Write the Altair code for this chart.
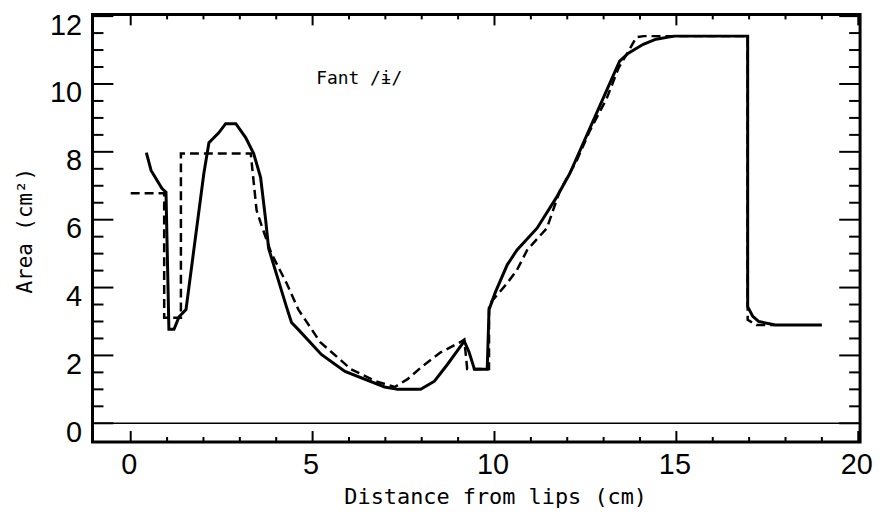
import altair as alt
import pandas as pd

# ---- data ----
solid_x = [0.43, 0.56, 0.86, 0.97, 1.05, 1.19, 1.33, 1.52, 2.01, 2.15, 2.42, 2.61, 2.89, 3.16, 3.38,
           3.57, 3.71, 3.79, 4.28, 4.42, 4.61, 5.24, 5.89, 6.98, 7.34, 7.97, 8.35, 8.71, 9.17, 9.30,
           9.45, 9.80, 9.85, 10.02, 10.35, 10.62, 11.17, 11.70, 12.07, 13.44, 13.68, 14.09, 14.44,
           14.94, 16.96, 16.96, 17.10, 17.26, 17.72, 19.00]
solid_y = [7.98, 7.45, 6.92, 6.81, 2.77, 2.77, 3.14, 3.35, 7.36, 8.27, 8.56, 8.83, 8.83, 8.42, 7.95,
           7.25, 5.99, 5.16, 3.44, 2.97, 2.76, 2.03, 1.53, 1.07, 1.00, 1.00, 1.24, 1.74, 2.42, 2.10,
           1.59, 1.59, 3.35, 3.85, 4.67, 5.11, 5.75, 6.65, 7.36, 10.67, 10.91, 11.17, 11.32,
           11.41, 11.41, 3.44, 3.15, 3.00, 2.90, 2.90]

dash_x = [0.00, 0.92, 0.92, 1.38, 1.38, 3.30, 3.46, 3.61, 3.87, 4.28, 4.61, 5.21, 6.06, 6.74, 7.26,
          7.61, 8.02, 8.52, 9.06, 9.17, 9.25, 9.85, 9.85, 10.35, 10.62, 10.90, 11.44, 11.80, 12.26,
          12.62, 13.08, 13.41, 13.68, 13.90, 14.10, 16.96, 16.96, 17.20, 17.70]
dash_y = [6.78, 6.78, 3.11, 3.11, 7.95, 7.95, 6.28, 5.79, 5.00, 4.14, 3.35, 2.39, 1.59, 1.24, 1.07,
          1.30, 1.68, 2.09, 2.39, 2.47, 1.60, 1.60, 3.50, 4.13, 4.52, 5.11, 5.75, 6.86, 7.74,
          8.62, 9.56, 10.47, 10.96, 11.38, 11.41, 11.41, 3.05, 2.90, 2.90]

x_labels = [0, 5, 10, 15, 20]
x_minor = [1, 2, 3, 4, 6, 7, 8, 9, 11, 12, 13, 14, 16, 17, 18, 19]
y_labels = [0, 2, 4, 6, 8, 10, 12]
y_minor = [0.5, 1, 1.5, 2.5, 3, 3.5, 4.5, 5, 5.5, 6.5, 7, 7.5, 8.5, 9, 9.5, 10.5, 11, 11.5]
zero_level = [0]

note_text = ["Fant /ɨ/"]
note_x = [5.1]
note_y = [10.0]

W, H = 772, 430
XD = [-1.05, 20.05]
YD = [-0.55, 12.05]

solid = pd.DataFrame({"x": solid_x, "y": solid_y, "i": range(len(solid_x))})
dashed = pd.DataFrame({"x": dash_x, "y": dash_y, "i": range(len(dash_x))})

xs = alt.Scale(domain=XD, nice=False, zero=False)
ys = alt.Scale(domain=YD, nice=False, zero=False)

xaxis = alt.Axis(values=x_labels, ticks=False, domain=False, grid=False, tickSize=0,
                 labelFont="Liberation Sans", labelFontSize=29, labelColor="black",
                 labelPadding=9, labelFlush=False, labelOffset=-2,
                 title="Distance from lips (cm)", titleFont="DejaVu Sans Mono",
                 titleFontSize=22, titleFontWeight="normal", titleColor="black",
                 titleX=405, titleY=62, titleAlign="center", titleBaseline="alphabetic")
yaxis = alt.Axis(values=y_labels, ticks=False, domain=False, grid=False, tickSize=0,
                 labelFont="Liberation Sans", labelFontSize=29, labelColor="black",
                 labelPadding=11, labelFlush=False, labelBaseline="top", labelOffset=-5,
                 title="Area (cm²)", titleFont="DejaVu Sans Mono", titleFontSize=21,
                 titleFontWeight="normal", titleColor="black", titleAngle=270,
                 titleX=-61, titleY=217, titleAlign="center", titleBaseline="alphabetic")

base_solid = alt.Chart(solid).mark_line(color="black", strokeWidth=3).encode(
    x=alt.X("x:Q", scale=xs, axis=xaxis),
    y=alt.Y("y:Q", scale=ys, axis=yaxis),
    order="i:Q",
)
base_dash = alt.Chart(dashed).mark_line(color="black", strokeWidth=2.5, strokeDash=[9, 5]).encode(
    x=alt.X("x:Q", scale=xs),
    y=alt.Y("y:Q", scale=ys),
    order="i:Q",
)

zero = alt.Chart(pd.DataFrame({"v": zero_level})).mark_rule(color="black", strokeWidth=1.5).encode(
    y=alt.Y("v:Q", scale=ys), x=alt.value(0), x2=alt.value(W))

def xticks(vals, length):
    d = pd.DataFrame({"v": vals})
    b = alt.Chart(d).mark_rule(color="black", strokeWidth=2).encode(
        x=alt.X("v:Q", scale=xs), y=alt.value(H), y2=alt.value(H - length))
    t = alt.Chart(d).mark_rule(color="black", strokeWidth=2).encode(
        x=alt.X("v:Q", scale=xs), y=alt.value(0), y2=alt.value(length))
    return [b, t]

def yticks(vals, length):
    d = pd.DataFrame({"v": vals})
    l = alt.Chart(d).mark_rule(color="black", strokeWidth=2).encode(
        y=alt.Y("v:Q", scale=ys), x=alt.value(0), x2=alt.value(length))
    r = alt.Chart(d).mark_rule(color="black", strokeWidth=2).encode(
        y=alt.Y("v:Q", scale=ys), x=alt.value(W), x2=alt.value(W - length))
    return [l, r]

note = alt.Chart(pd.DataFrame({"x": note_x, "y": note_y, "t": note_text})).mark_text(
    align="left", baseline="alphabetic", font="DejaVu Sans Mono", fontSize=18, color="black"
).encode(x=alt.X("x:Q", scale=xs), y=alt.Y("y:Q", scale=ys), text="t:N")

layers = [base_solid, base_dash, zero, note]
layers += xticks(x_labels, 11) + xticks(x_minor, 5)
layers += yticks(y_labels, 21) + yticks(y_minor, 11)

chart = alt.layer(*layers).properties(
    width=W, height=H,
    autosize=alt.AutoSizeParams(type="none"),
    padding={"left": 85, "top": 5, "right": 14, "bottom": 68},
).configure(background="white").configure_view(stroke="black", strokeWidth=3)

chart.save("out.html", embed_options={"renderer": "svg", "actions": False})
